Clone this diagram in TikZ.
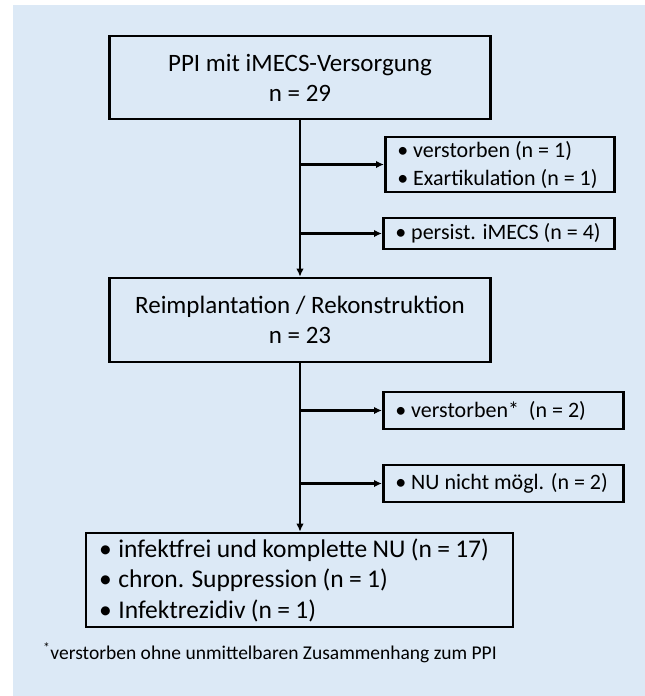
\documentclass[tikz,border=0pt]{standalone}
\usepackage{fontspec}
\setmainfont{Carlito}
\usetikzlibrary{arrows.meta}
\definecolor{bgblue}{RGB}{220,233,246}
\begin{document}
\begin{tikzpicture}[x=1pt,y=-1pt,
  mainbox/.style={draw=black, line width=2.6pt, align=center, inner sep=0pt,
    font=\fontsize{25}{30}\selectfont},
  sidebox/.style={draw=black, line width=2.6pt, align=flush left, inner xsep=12pt, inner ysep=0pt, anchor=west,
    font=\fontsize{22}{28}\selectfont},
  listbox/.style={draw=black, line width=2.6pt, align=flush left, inner xsep=13pt, inner ysep=0pt,
    font=\fontsize{25.5}{30.5}\selectfont},
  arr/.style={line width=2.2pt, -{Latex[length=8pt,width=7.5pt]}}
]
\useasboundingbox (0,0) rectangle (645,696);
\fill[bgblue] (13,5) rectangle (645,696);

\node[mainbox, minimum width=381pt, minimum height=83pt] (b1) at (300,77.5)
  {PPI mit iMECS-Versorgung\\n = 29};
\node[mainbox, minimum width=381pt, minimum height=84pt] (b2) at (300,320)
  {Reimplantation / Rekonstruktion\\n = 23};
\node[listbox, text width=401pt, minimum height=94pt] (b4) at (299.5,580)
  {\spaceskip=0.21em plus 0.05em\relax
   •\hspace{0.05em} infektfrei und komplette NU (n = 17)\\•\hspace{0.05em} chron. Suppression (n = 1)\\•\hspace{0.05em} Infektrezidiv (n = 1)};

\node[sidebox, text width=205pt, minimum height=55pt] (s1) at (384,164.5)
  {• verstorben (n = 1)\\• Exartikulation (n = 1)};
\node[sidebox, text width=207pt, minimum height=31pt] (s2) at (382,233.5)
  {• persist. iMECS (n = 4)};
\node[sidebox, text width=216pt, minimum height=37pt] (s3) at (382,410.5)
  {• verstorben*~~(n = 2)};
\node[sidebox, text width=216pt, minimum height=37pt] (s4) at (382,483.5)
  {• NU nicht mögl. (n = 2)};

\node[anchor=west, inner sep=0pt, font=\fontsize{19.5}{23}\selectfont] (fn) at (43,653)
  {\textsuperscript{*}verstorben ohne unmittelbaren Zusammenhang zum PPI};

\draw[arr] (b1.south) -- (b2.north);
\draw[arr] (b2.south) -- (b2.south |- b4.north);
\draw[arr] (b1.south |- s1.west) -- (s1.west);
\draw[arr] (b1.south |- s2.west) -- (s2.west);
\draw[arr] (b2.south |- s3.west) -- (s3.west);
\draw[arr] (b2.south |- s4.west) -- (s4.west);
\end{tikzpicture}
\end{document}
